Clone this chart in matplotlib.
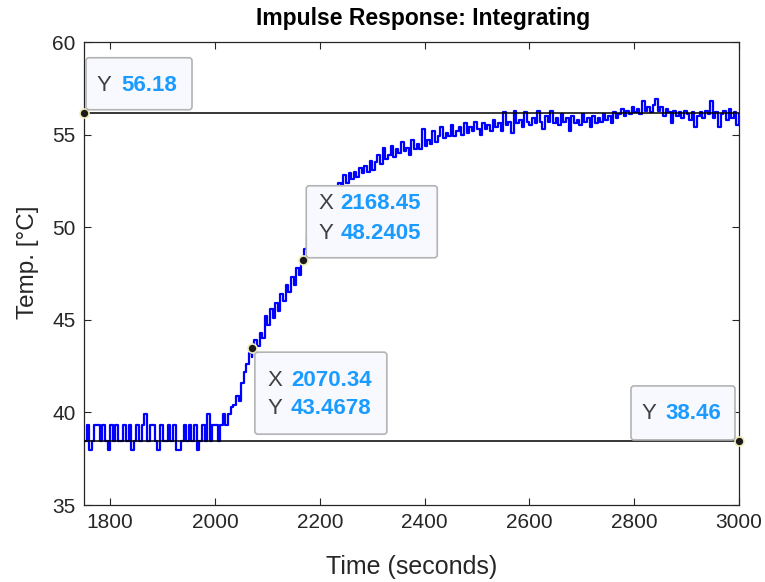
import numpy as np
import matplotlib
matplotlib.use("Agg")
import matplotlib.pyplot as plt
from matplotlib.patches import FancyBboxPatch

# === data ===
T_START, T_END, DT = 1750, 3000, 5

temp = [
    # 1750 - 1995 (baseline)
    38.46, 39.3, 37.96, 38.46, 39.3, 39.3, 38.46, 39.3, 38.46, 37.96,
    39.3, 38.46, 39.3, 38.46, 38.46, 39.3, 38.46, 39.3, 37.96, 38.46,
    39.3, 38.46, 39.3, 39.9, 38.46, 39.3, 39.3, 38.46, 37.96, 39.3,
    38.46, 38.46, 39.3, 38.46, 39.3, 37.96, 37.96, 38.46, 39.3, 38.46,
    39.3, 38.46, 39.3, 37.96, 38.46, 39.3, 38.46, 39.9, 38.46, 39.3,
    # 2000 - 2065
    39.3, 38.46, 39.3, 39.9, 39.3, 39.9, 40.3, 40.4, 40.9, 40.6,
    41.6, 42.2, 42.6, 43.2,
    # 2070 - 2165
    43.0, 43.9, 43.6, 44.3, 44.0, 45.2, 44.7, 45.6, 45.1, 45.9,
    45.5, 46.4, 46.0, 46.9, 46.5, 47.3, 46.9, 47.8, 47.4, 48.3,
    # 2170 - 2265
    48.8, 49.6, 50.1, 50.0, 50.6, 51.0, 50.7, 51.3, 51.5, 51.1,
    51.9, 52.0, 51.7, 52.4, 52.3, 52.8, 52.4, 52.9, 52.6, 53.0,
    # 2270 - 2365
    52.7, 53.2, 52.9, 53.3, 53.0, 53.6, 53.1, 53.5, 53.9, 53.4,
    54.3, 53.7, 53.9, 54.4, 53.8, 54.2, 54.0, 54.6, 54.1, 54.3,
    # 2370 - 2465
    53.9, 54.7, 54.2, 54.5, 54.2, 55.3, 54.4, 54.7, 54.5, 55.2,
    54.6, 54.9, 55.4, 54.8, 55.1, 54.9, 55.5, 54.9, 55.2, 55.4,
    # 2470 - 2565
    55.0, 55.6, 55.1, 55.4, 55.2, 55.7, 55.3, 55.0, 55.6, 55.3,
    55.5, 55.2, 55.8, 55.4, 55.6, 55.2, 56.2, 55.5, 55.7, 55.1,
    # 2570 - 2665
    56.3, 55.6, 55.8, 55.4, 56.2, 55.7, 55.5, 55.9, 55.6, 56.3,
    55.7, 55.3, 56.0, 55.7, 56.3, 55.6, 55.9, 55.5, 56.1, 55.7,
    # 2670 - 2765
    55.9, 55.2, 56.0, 55.6, 55.8, 55.5, 56.1, 55.7, 55.9, 55.4,
    56.0, 55.6, 55.9, 55.7, 56.1, 55.8, 56.0, 55.6, 56.2, 55.9,
    # 2770 - 2865
    56.1, 56.4, 56.0, 56.3, 56.1, 56.5, 56.2, 56.4, 56.1, 56.8,
    56.3, 56.5, 56.2, 56.6, 56.9, 56.3, 56.5, 56.0, 56.4, 56.2,
    # 2870 - 2965
    55.6, 56.3, 56.0, 56.2, 55.9, 56.3, 56.1, 55.8, 56.2, 55.4,
    56.0, 56.2, 55.9, 56.3, 56.1, 56.8, 55.9, 56.2, 55.4, 56.1,
    # 2970 - 3000
    56.3, 55.8, 56.4, 55.9, 56.2, 55.5, 56.1,
]

# data tip samples picked on the curve
tip_x = [2070.34, 2168.45]
tip_y = [43.4678, 48.2405]

# reference levels (initial / final)
y_low = 38.46
y_high = 56.18

t = np.arange(T_START, T_END + 1, DT, dtype=float)
assert len(t) == len(temp)
t_all = np.concatenate([t, tip_x])
y_all = np.concatenate([temp, tip_y])
order = np.argsort(t_all, kind="stable")
t_all, y_all = t_all[order], y_all[order]

# === style ===
plt.rcParams['font.family'] = ['Liberation Sans', 'DejaVu Sans']
TXT = '#262626'
TIP_LBL = '#404040'
TIP_VAL = '#1a9bff'

W, H = 765, 582
fig = plt.figure(figsize=(W / 100, H / 100), dpi=100)
ax = fig.add_axes([84 / W, 1 - 505 / H, (739 - 84) / W, (505 - 42) / H])

ax.plot(t_all, y_all, color=(0, 0, 1), lw=1.6, drawstyle='steps-post',
        zorder=2)
ax.plot([T_START, T_END], [y_high, y_high], color='black', lw=1.1, zorder=3)
ax.plot([T_START, T_END], [y_low, y_low], color='black', lw=1.1, zorder=3)

ax.set_xlim(T_START, T_END)
ax.set_ylim(35, 60)
ax.set_xticks(range(1800, 3001, 200))
ax.set_yticks(range(35, 61, 5))
ax.tick_params(direction='in', length=5, width=0.8, colors=TXT,
               labelsize=15, top=True, right=True, pad=6)
for s in ax.spines.values():
    s.set_color(TXT)
    s.set_linewidth(0.9)

ax.set_title('Impulse Response: Integrating', fontsize=16.5,
             fontweight='bold', color='black', pad=12, x=0.517)
ax.set_xlabel('Time (seconds)', fontsize=18, color=TXT, labelpad=16)
ax.set_ylabel('Temp. [°C]', fontsize=17.5, color=TXT)
ax.yaxis.set_label_coords(-0.068, 0.525)

# === data tips ===
# (anchor, box offsets in px [left, right, top, bottom] relative to anchor,
#  rows of (label, value), label x offset, value x offset, row y offsets)
tips = [
    ((T_START, y_high), (2, 108, 55, 3), [('Y', '56.18')], 13, 37, [27]),
    ((tip_x[1], tip_y[1]), (3, 134, 74, 2),
     [('X', '2168.45'), ('Y', '48.2405')], 15, 37, [56, 26]),
    ((tip_x[0], tip_y[0]), (3, 135, -4, -86),
     [('X', '2070.34'), ('Y', '43.4678')], 16, 39, [-32, -60]),
    ((T_END, y_low), (-108, -4, 55, 1), [('Y', '38.46')], -97, -74, [27]),
]

for (ax_x, ax_y), (l, r, tp, bt), rows, lx, vx, rys in tips:
    px, py = ax.transData.transform((ax_x, ax_y))
    box = FancyBboxPatch((px + l, py + bt), r - l, tp - bt,
                         boxstyle='round,pad=0,rounding_size=3',
                         transform=None, facecolor='#f8f8ff',
                         edgecolor='#b4b4b4', lw=1.2, zorder=10)
    fig.patches.append(box)
    for (lab, val), ry in zip(rows, rys):
        fig.text((px + lx) / W, (py + ry) / H, lab, fontsize=16,
                 color=TIP_LBL, va='center', ha='left', zorder=11)
        fig.text((px + vx) / W, (py + ry) / H, val, fontsize=16,
                 fontweight='bold', color=TIP_VAL, va='center', ha='left',
                 zorder=11)
    ax.plot(ax_x, ax_y, 'o', ms=6.5, color='#1a1a1a', mec='#f0ecb8',
            mew=1.2, zorder=12, clip_on=False)

fig.savefig('out.png', dpi=100)
